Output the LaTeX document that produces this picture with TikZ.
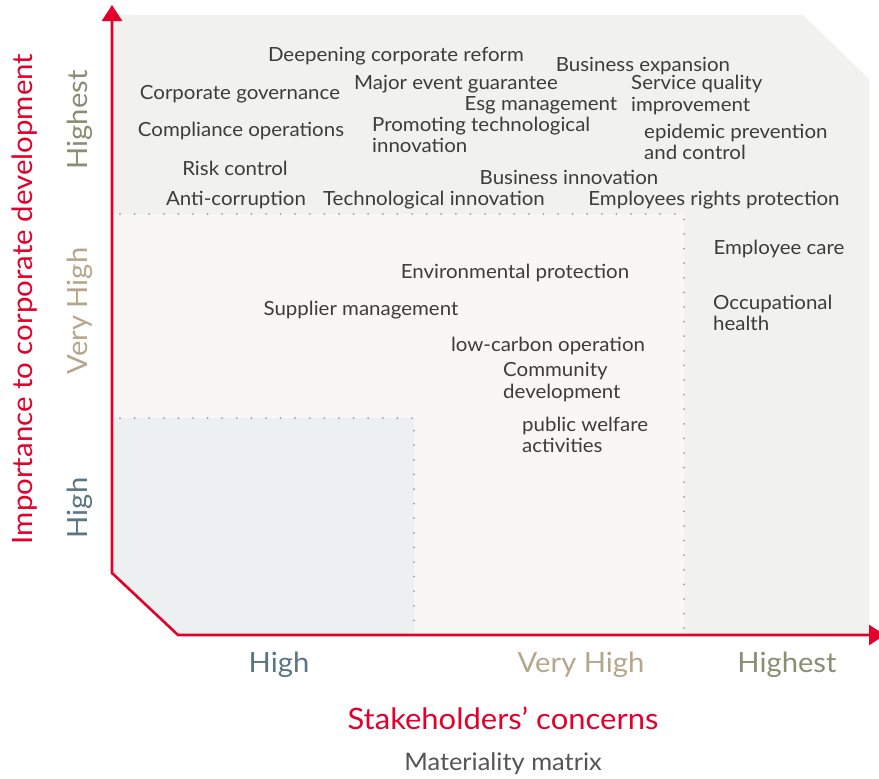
\documentclass[tikz,border=0pt]{standalone}
\usepackage{fontspec}
\setmainfont[FakeStretch=1.05]{Lato}
\usetikzlibrary{positioning,arrows.meta}

\definecolor{axisred}{HTML}{E4002B}
\definecolor{topicgray}{HTML}{3C3C3C}
\definecolor{captiongray}{HTML}{555555}
\definecolor{dotgray}{HTML}{9C9C9C}
\definecolor{highestfill}{HTML}{F1F1EF}
\definecolor{veryhighfill}{HTML}{F8F7F5}
\definecolor{highfill}{HTML}{ECF0F1}
\definecolor{highestcol}{HTML}{8A8E72}
\definecolor{veryhighcol}{HTML}{B6A68C}
\definecolor{highcol}{HTML}{5B7584}

\begin{document}
\begin{tikzpicture}[
    x=1pt, y=-1pt,
    topic/.style={text=topicgray, font=\fontsize{19.5}{21.5}\selectfont, inner sep=0pt, yshift=-2pt},
    topicleft/.style={topic, align=left, anchor=west},
    level/.style={font=\fontsize{27.8}{31}\selectfont, inner sep=0pt},
    axistitle/.style={text=axisred, font=\fontsize{29.5}{33}\selectfont, inner sep=0pt},
    axisline/.style={axisred, line width=2.6pt, {Triangle[length=16pt,width=20pt]}-{Triangle[length=16pt,width=20pt]}},
    gridline/.style={dotgray, line width=2pt, dash pattern=on 0pt off 14.6pt, line cap=round}
]
    \useasboundingbox (0,0) rectangle (879,779);

    % Zones
    \fill[highestfill] (112,15) -- (803,15) -- (869,79) -- (869,635) -- (178,635) -- (112,573) -- cycle;
    \fill[veryhighfill] (112,214) -- (684,214) -- (684,635) -- (178,635) -- (112,573) -- cycle;
    \fill[highfill] (112,418) -- (414,418) -- (414,635) -- (178,635) -- (112,573) -- cycle;

    % Zone borders
    \coordinate (vhleft) at (120,214);
    \coordinate (vhcorner) at (684,214);
    \coordinate (vhfoot) at (684,632);
    \coordinate (hleft) at (120,418);
    \coordinate (hcorner) at (414,418);
    \coordinate (hfoot) at (414,632);
    \draw[gridline] (vhleft) -- (vhcorner) -- (vhfoot);
    \draw[gridline] (hleft) -- (hcorner) -- (hfoot);

    % Axes
    \coordinate (ytip) at (112,5);
    \coordinate (ybend) at (112,573);
    \coordinate (xbend) at (178,635);
    \coordinate (xtip) at (885,635);
    \draw[axisline] (ytip) -- (ybend) -- (xbend) -- (xtip);

    % Highest zone
    \node[topic] (deepening) at (396,54) {Deepening corporate reform};
    \node[topic] (expansion) at (643,64) {Business expansion};
    \node[topic] (governance) at (240,92) {Corporate governance};
    \node[topic] (guarantee) at (456,82) {Major event guarantee};
    \node[topicleft] (service) at (631,93) {Service quality\\improvement};
    \node[topic] (esg) at (541,103) {Esg management};
    \node[topic] (compliance) at (241,129) {Compliance operations};
    \node[topicleft] (promoting) at (372,133) {Promoting technological\\innovation};
    \node[topicleft] (epidemic) at (644,140) {epidemic prevention\\and control};
    \node[topic] (risk) at (235,166) {Risk control};
    \node[topic] (bizinnov) at (569,175) {Business innovation};
    \node[topic] (anticorr) at (236,198) {Anti-corruption};
    \node[topic] (techinnov) at (434,198) {Technological innovation};
    \node[topic] (rights) at (714,198) {Employees rights protection};
    \node[topic] (care) at (779,247) {Employee care};
    \node[topicleft] (occupational) at (713,311) {Occupational\\health};

    % Very high zone
    \node[topic] (environment) at (515,271) {Environmental protection};
    \node[topic] (supplier) at (361,308) {Supplier management};
    \node[topic] (lowcarbon) at (548,344) {low-carbon operation};
    \node[topicleft] (community) at (503,380) {Community\\development};
    \node[topicleft] (welfare) at (522,433) {public welfare\\activities};

    % Axis levels
    \node[level, text=highcol] (xhigh) at (279,665) {High};
    \node[level, text=veryhighcol] (xveryhigh) at (581,665) {Very High};
    \node[level, text=highestcol] (xhighest) at (787,665) {Highest};
    \node[level, text=highestcol, rotate=90] (yhighest) at (80,120) {Highest};
    \node[level, text=veryhighcol, rotate=90] (yveryhigh) at (80,311) {Very High};
    \node[level, text=highcol, rotate=90] (yhigh) at (80,508) {High};

    % Titles
    \node[axistitle] (xtitle) at (503,718) {Stakeholders’ concerns};
    \node[axistitle, font=\fontsize{28}{32}\selectfont, rotate=90] (ytitle) at (25,299) {Importance to corporate development};
    \node[text=captiongray, font=\fontsize{24.2}{27}\selectfont, inner sep=0pt] (caption) at (503,764) {Materiality matrix};
\end{tikzpicture}
\end{document}
